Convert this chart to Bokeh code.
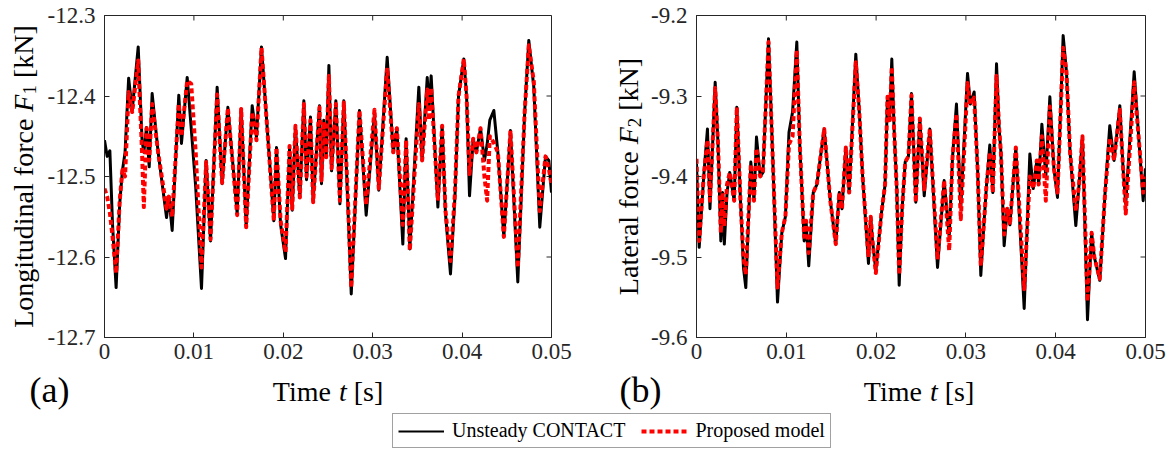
import numpy as np
from bokeh.plotting import figure
from bokeh.models import (Range1d, FixedTicker, CustomJSTickFormatter,
                          Legend, LegendItem)
from bokeh.core.properties import value
from bokeh.layouts import column, row
from bokeh.embed import file_html
from bokeh.resources import INLINE

# ---------------- data ----------------
t_a = [0.0000, 0.0003, 0.0006, 0.0009, 0.0013, 0.0017, 0.0020, 0.0023, 0.0027, 0.0031,
       0.00377, 0.0042, 0.0044, 0.0047, 0.0050, 0.00533, 0.0060, 0.00694, 0.0072, 0.00757,
       0.00831, 0.00861, 0.00925, 0.0097, 0.0102, 0.01085, 0.01137, 0.01186, 0.0126, 0.01316,
       0.0138, 0.01484, 0.01529, 0.01585, 0.01652, 0.0170, 0.01756, 0.0182, 0.01894, 0.01924,
       0.0197, 0.02025, 0.0207, 0.0210, 0.02136, 0.02185, 0.0223, 0.0226, 0.02304, 0.02334,
       0.02405, 0.02427, 0.02453, 0.0248, 0.0251, 0.0254, 0.02588, 0.02633, 0.02677, 0.0272,
       0.0276, 0.02852, 0.02927, 0.0302, 0.03068, 0.03162, 0.0323, 0.0327, 0.03337, 0.03374,
       0.03415, 0.03516, 0.03553, 0.0361, 0.0363, 0.03654, 0.03729, 0.03777, 0.03814, 0.0387,
       0.0392, 0.0396, 0.04019, 0.0405, 0.04083, 0.04124, 0.0416, 0.04206, 0.0425, 0.0428,
       0.0431, 0.04355, 0.0440, 0.04467, 0.04541, 0.04623, 0.0470, 0.04746, 0.04802, 0.04869,
       0.04933, 0.0497, 0.0500]
f1_contact = [-12.455, -12.475, -12.468, -12.560, -12.638, -12.534, -12.493, -12.470, -12.378, -12.418,
              -12.339, -12.455, -12.470, -12.439, -12.488, -12.397, -12.470, -12.551, -12.525, -12.567,
              -12.399, -12.459, -12.377, -12.440, -12.513, -12.639, -12.480, -12.580, -12.389, -12.509,
              -12.414, -12.546, -12.416, -12.563, -12.412, -12.451, -12.339, -12.440, -12.555, -12.464,
              -12.560, -12.602, -12.464, -12.542, -12.439, -12.526, -12.406, -12.504, -12.426, -12.530,
              -12.412, -12.509, -12.430, -12.476, -12.362, -12.493, -12.406, -12.534, -12.406, -12.530,
              -12.646, -12.418, -12.548, -12.422, -12.517, -12.352, -12.470, -12.440, -12.584, -12.453,
              -12.590, -12.389, -12.480, -12.377, -12.415, -12.375, -12.538, -12.437, -12.546, -12.621,
              -12.525, -12.400, -12.354, -12.400, -12.524, -12.453, -12.470, -12.440, -12.480, -12.460,
              -12.430, -12.418, -12.470, -12.575, -12.443, -12.631, -12.420, -12.331, -12.389, -12.563,
              -12.475, -12.480, -12.520]
f1_model = [-12.515, -12.525, -12.545, -12.575, -12.620, -12.530, -12.492, -12.500, -12.395, -12.420,
            -12.356, -12.470, -12.538, -12.440, -12.480, -12.410, -12.470, -12.540, -12.525, -12.550,
            -12.410, -12.450, -12.381, -12.385, -12.470, -12.613, -12.482, -12.578, -12.398, -12.508,
            -12.415, -12.548, -12.416, -12.563, -12.420, -12.455, -12.340, -12.440, -12.555, -12.464,
            -12.555, -12.594, -12.462, -12.540, -12.437, -12.526, -12.410, -12.500, -12.430, -12.532,
            -12.414, -12.505, -12.432, -12.476, -12.375, -12.490, -12.410, -12.530, -12.408, -12.520,
            -12.638, -12.418, -12.535, -12.417, -12.515, -12.365, -12.470, -12.440, -12.560, -12.455,
            -12.592, -12.410, -12.480, -12.392, -12.430, -12.390, -12.530, -12.437, -12.542, -12.605,
            -12.520, -12.400, -12.354, -12.400, -12.497, -12.453, -12.470, -12.440, -12.500, -12.530,
            -12.450, -12.458, -12.470, -12.575, -12.443, -12.613, -12.420, -12.337, -12.382, -12.543,
            -12.475, -12.490, -12.510]

t_b = [0.0000, 0.0003, 0.0008, 0.00122, 0.0015, 0.00208, 0.0024, 0.00271, 0.0029, 0.0031,
       0.0034, 0.0037, 0.0042, 0.00449, 0.0049, 0.00523, 0.00549, 0.00605, 0.0064, 0.00668,
       0.0071, 0.0074, 0.00802, 0.0085, 0.00902, 0.0095, 0.0099, 0.0103, 0.0107, 0.01117,
       0.0115, 0.01199, 0.0122, 0.0125, 0.0130, 0.0134, 0.01422, 0.0149, 0.01551, 0.0159,
       0.0162, 0.01663, 0.0170, 0.01774, 0.01812, 0.0185, 0.01915, 0.0194, 0.0196, 0.01997,
       0.0206, 0.0210, 0.02127, 0.0215, 0.02175, 0.0220, 0.0223, 0.02257, 0.0229, 0.02324,
       0.0236, 0.02394, 0.02442, 0.02487, 0.02536, 0.02598, 0.02684, 0.02758, 0.02814, 0.02851,
       0.02895, 0.02943, 0.03018, 0.0305, 0.03092, 0.0313, 0.03166, 0.0320, 0.0323, 0.03266,
       0.0330, 0.03341, 0.0337, 0.0339, 0.03426, 0.0346, 0.0349, 0.03556, 0.03649, 0.03712,
       0.0375, 0.0379, 0.0381, 0.03846, 0.0389, 0.03935, 0.0398, 0.0402, 0.04083, 0.0412,
       0.0416, 0.04224, 0.0426, 0.04298, 0.04354, 0.0440, 0.0443, 0.04491, 0.0455, 0.04602,
       0.0465, 0.04714, 0.0475, 0.0478, 0.04874, 0.0493, 0.04974, 0.0500]
f2_contact = [-9.384, -9.488, -9.400, -9.341, -9.440, -9.283, -9.360, -9.480, -9.420, -9.484,
              -9.420, -9.395, -9.430, -9.314, -9.430, -9.513, -9.538, -9.382, -9.430, -9.351,
              -9.400, -9.395, -9.229, -9.380, -9.556, -9.470, -9.450, -9.345, -9.320, -9.233,
              -9.360, -9.480, -9.455, -9.511, -9.420, -9.410, -9.341, -9.430, -9.484, -9.420,
              -9.440, -9.364, -9.420, -9.248, -9.318, -9.400, -9.508, -9.450, -9.480, -9.517,
              -9.445, -9.410, -9.301, -9.330, -9.254, -9.340, -9.415, -9.535, -9.440, -9.382,
              -9.375, -9.297, -9.432, -9.328, -9.424, -9.341, -9.513, -9.405, -9.475, -9.376,
              -9.310, -9.438, -9.272, -9.310, -9.295, -9.390, -9.523, -9.460, -9.410, -9.361,
              -9.420, -9.260, -9.340, -9.370, -9.486, -9.440, -9.460, -9.364, -9.564, -9.372,
              -9.415, -9.380, -9.410, -9.335, -9.400, -9.301, -9.390, -9.426, -9.225, -9.270,
              -9.370, -9.461, -9.410, -9.351, -9.578, -9.470, -9.500, -9.529, -9.420, -9.337,
              -9.380, -9.312, -9.390, -9.434, -9.270, -9.360, -9.430, -9.390]
f2_model = [-9.378, -9.480, -9.400, -9.355, -9.430, -9.290, -9.360, -9.470, -9.420, -9.462,
            -9.410, -9.395, -9.430, -9.314, -9.430, -9.500, -9.522, -9.385, -9.430, -9.365,
            -9.400, -9.395, -9.233, -9.380, -9.538, -9.470, -9.450, -9.360, -9.350, -9.243,
            -9.360, -9.475, -9.455, -9.495, -9.420, -9.410, -9.341, -9.430, -9.484, -9.420,
            -9.440, -9.364, -9.420, -9.258, -9.318, -9.400, -9.500, -9.450, -9.480, -9.520,
            -9.445, -9.410, -9.301, -9.330, -9.264, -9.340, -9.415, -9.522, -9.440, -9.382,
            -9.375, -9.299, -9.432, -9.328, -9.416, -9.341, -9.503, -9.405, -9.492, -9.376,
            -9.322, -9.453, -9.284, -9.310, -9.302, -9.390, -9.511, -9.460, -9.410, -9.370,
            -9.420, -9.275, -9.340, -9.370, -9.472, -9.440, -9.460, -9.364, -9.540, -9.400,
            -9.415, -9.380, -9.410, -9.350, -9.430, -9.313, -9.390, -9.420, -9.240, -9.270,
            -9.370, -9.443, -9.410, -9.350, -9.555, -9.470, -9.500, -9.527, -9.420, -9.352,
            -9.380, -9.317, -9.390, -9.446, -9.283, -9.360, -9.420, -9.400]

x_ticks = [0.0, 0.01, 0.02, 0.03, 0.04, 0.05]
f1_ticks = [-12.7, -12.6, -12.5, -12.4, -12.3]
f2_ticks = [-9.6, -9.5, -9.4, -9.3, -9.2]

# ---------------- styling ----------------
FONT = "Liberation Serif"
INK = "#262626"
FH = 322          # frame height
TOP = 15          # frame top (page px)
ROW1_H = 369      # height of the row holding the panels
BOT = ROW1_H - TOP - FH
ROW2_H = 41       # row with (a)/(b) and x labels
ROW3_H = 40       # legend row
TICK = 5          # inward tick length, px


def style_axis(ax, ticks, fmt, standoff):
    ax.ticker = FixedTicker(ticks=ticks)
    ax.formatter = CustomJSTickFormatter(code=fmt)
    ax.major_tick_in = TICK
    ax.major_tick_out = 0
    ax.minor_tick_line_color = None
    ax.axis_line_color = INK
    ax.major_tick_line_color = INK
    ax.major_label_text_font = FONT
    ax.major_label_text_color = INK
    ax.major_label_text_font_size = "23px"
    ax.major_label_standoff = standoff


def make_panel(t, ref, model, yr, yticks, fw, bl, br):
    xr = (0.0, 0.05)
    p = figure(frame_width=fw, frame_height=FH,
               x_range=Range1d(*xr), y_range=Range1d(*yr),
               output_backend="svg", toolbar_location=None,
               min_border_left=bl, min_border_right=br,
               min_border_top=TOP, min_border_bottom=BOT,
               background_fill_color="white", border_fill_color="white")
    p.grid.visible = False
    p.outline_line_color = INK
    p.outline_line_width = 1
    style_axis(p.below[0], x_ticks, "return tick === 0 ? '0' : tick.toFixed(2);", 6)
    style_axis(p.left[0], yticks, "return tick.toFixed(1);", 9)

    # inward ticks on the top and right edges of the box (MATLAB "box on")
    dy = TICK * (yr[1] - yr[0]) / FH
    dx = TICK * (xr[1] - xr[0]) / fw
    p.segment(x0=x_ticks, y0=[yr[1]] * len(x_ticks), x1=x_ticks,
              y1=[yr[1] - dy] * len(x_ticks), line_color=INK, line_width=1)
    p.segment(x0=[xr[1]] * len(yticks), y0=yticks, x1=[xr[1] - dx] * len(yticks),
              y1=yticks, line_color=INK, line_width=1)

    p.line(t, ref, line_color="black", line_width=3, line_join="round")
    p.line(t, model, line_color="#FF0000", line_width=4, line_dash="5 3",
           line_join="round")
    return p


def text_fig(w, h, top=0, bottom=0):
    # data coordinates of this figure equal pixel offsets from its top-left corner
    f = figure(width=w, height=h, x_range=Range1d(0, w), y_range=Range1d(h - bottom, top),
               output_backend="svg", toolbar_location=None,
               min_border_left=0, min_border_right=0,
               min_border_top=top, min_border_bottom=bottom,
               x_axis_location=None, y_axis_location=None,
               background_fill_color="white", border_fill_color="white")
    f.grid.visible = False
    f.outline_line_color = None
    return f


def put(f, x, y, text, size, style="normal", align="left", angle=0.0):
    f.text(x=[x], y=[y], text=[text], text_font=value(FONT),
           text_font_size=value(f"{size}px"), text_font_style=value(style),
           text_align=value(align), text_baseline=value("middle"),
           angle=angle, text_color="black")


def ylabel(f, cx, pieces):
    total = sum(pc[3] for pc in pieces)
    start = TOP + FH / 2 + total / 2
    cum = 0.0
    for text, style, size, w, dx in pieces:
        put(f, cx + dx, start - cum, text, size, style, "left", np.pi / 2)
        cum += w


def xlabel(f, cx, cy):
    pieces = [("Time", "normal", 28, 2.361 * 28), ("t", "italic", 28, 0.528 * 28),
              ("[s]", "normal", 28, 1.055 * 28)]
    total = sum(pc[3] for pc in pieces)
    start = cx - total / 2
    cum = 0.0
    for text, style, size, w in pieces:
        put(f, start + cum, cy, text, size, style, "left")
        cum += w


# panels: p1 frame x 104..551, p2 frame x 694..1143 (page px)
YA_W = 44
YB_W = 58
p1 = make_panel(t_a, f1_contact, f1_model, (-12.7, -12.3), f1_ticks, 447, 104 - YA_W, 39)
p2 = make_panel(t_b, f2_contact, f2_model, (-9.6, -9.2), f2_ticks, 449,
                694 - 590 - YB_W, 24)

ya = text_fig(YA_W, ROW1_H, TOP, BOT)
ylabel(ya, 23, [("Longitudinal force", "normal", 28, 7.721 * 28, 0),
                ("F", "italic", 28, 0.611 * 28, 0),
                ("1", "normal", 19, 0.5 * 19 + 0.25 * 28, 6),
                ("[kN]", "normal", 28, 1.888 * 28, 0)])
yb = text_fig(YB_W, ROW1_H, TOP, BOT)
ylabel(yb, 628 - 590, [("Lateral force", "normal", 28, 5.386 * 28, 0),
                       ("F", "italic", 28, 0.611 * 28, 0),
                       ("2", "normal", 19, 0.5 * 19 + 0.25 * 28, 6),
                       ("[kN]", "normal", 28, 1.888 * 28, 0)])

ba = text_fig(590, ROW2_H)
put(ba, 49, 20.5, "(a)", 36, align="center")
xlabel(ba, 327.5, 391 - ROW1_H)
bb = text_fig(577, ROW2_H)
put(bb, 640 - 590, 20.5, "(b)", 36, align="center")
xlabel(bb, 918.5 - 590, 391 - ROW1_H)

# ---------------- legend ----------------
pl = figure(width=1167, height=ROW3_H, output_backend="svg", toolbar_location=None,
            min_border=0, x_range=Range1d(0, 1), y_range=Range1d(0, 1),
            x_axis_location=None, y_axis_location=None,
            background_fill_color="white", border_fill_color="white")
pl.grid.visible = False
pl.outline_line_color = None
r1 = pl.line([2, 3], [2, 3], line_color="black", line_width=2)
r2 = pl.line([2, 3], [2, 3], line_color="#FF0000", line_width=4, line_dash="5 3")
legend = Legend(items=[LegendItem(label="Unsteady CONTACT", renderers=[r1]),
                       LegendItem(label="Proposed model", renderers=[r2])],
                orientation="horizontal", location=(392, 2),
                glyph_width=46, glyph_height=20, label_standoff=8, spacing=16,
                padding=5, margin=0, label_height=21,
                label_text_font=FONT, label_text_font_size="20px",
                label_text_color="black",
                border_line_color="#444444", border_line_width=1,
                background_fill_color="white")
pl.add_layout(legend)

layout = column(row(ya, p1, yb, p2), row(ba, bb), pl)

open("out.html", "w").write(file_html(layout, INLINE))
